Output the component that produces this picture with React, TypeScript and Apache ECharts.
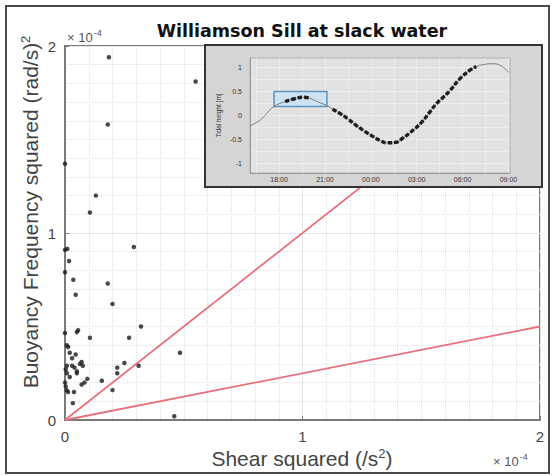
import React, { useEffect, useRef } from "react";
import * as echarts from "echarts";

// Shear squared S² and buoyancy frequency squared N², both in units of 1e-4
const shearSq = [
  0.185, 0.55, 0.18, 0.0, 0.13, 0.105, 0.29, 0.01, 0.0, 0.017,
  0.0, 0.035, 0.18, 0.045, 0.2, 0.0, 0.05, 0.055, 0.105, 0.27,
  0.32, 0.484, 0.31, 0.25, 0.22, 0.22, 0.2, 0.155, 0.094, 0.07,
  0.038, 0.033, 0.46, 0.007, 0.0, 0.013, 0.02, 0.03, 0.008, 0.03,
  0.04, 0.063, 0.07, 0.05, 0.008, 0.02, 0.05, 0.003, 0.013, 0.003,
  0.008, 0.045, 0.075, 0.082,
];
const buoyancySq = [
  1.94, 1.81, 1.58, 1.37, 1.2, 1.11, 0.925, 0.915, 0.91, 0.85,
  0.79, 0.75, 0.73, 0.67, 0.62, 0.465, 0.47, 0.48, 0.44, 0.44,
  0.5, 0.36, 0.29, 0.305, 0.28, 0.25, 0.16, 0.21, 0.22, 0.19,
  0.15, 0.09, 0.02, 0.16, 0.2, 0.39, 0.36, 0.33, 0.29, 0.29,
  0.28, 0.3, 0.31, 0.26, 0.25, 0.23, 0.25, 0.18, 0.15, 0.27,
  0.4, 0.35, 0.29, 0.2,
];
// Reference lines N² = Ri · S²
const richardson = [1, 0.25];
const mainTicks = [0, 1, 2];

// Tidal height record: hours from midnight of the first day, height in metres
const tideHours = [
  16.1, 16.5, 16.9, 17.5, 17.9, 18.4, 19.0, 19.6, 20.0, 20.5,
  21.1, 21.5, 22.0, 22.5, 23.1, 23.6, 24.1, 24.6, 25.05, 25.6,
  26.1, 26.6, 27.3, 27.8, 28.3, 28.8, 29.2, 29.8, 30.5, 30.9,
  31.3, 32.0, 32.6, 33.0,
];
const tideHeight = [
  -0.22, -0.15, -0.06, 0.15, 0.23, 0.29, 0.35, 0.38, 0.36, 0.29,
  0.21, 0.13, 0.04, -0.07, -0.22, -0.33, -0.43, -0.52, -0.57, -0.56,
  -0.47, -0.35, -0.15, 0.05, 0.25, 0.4, 0.53, 0.76, 0.95, 1.02,
  1.06, 1.08, 1.02, 0.9,
];
// Periods covered by the profiling casts
const castWindows = [
  [18.3, 20.1],
  [21.4, 30.9],
];
// Slack-water period highlighted on the tide record
const slackBox = { t0: 17.67, t1: 21.13, h0: 0.19, h1: 0.5 };
const tideHourTicks = [18, 21, 24, 27, 30, 33];
const tideHourGrid = [16.5, 18, 19.5, 21, 22.5, 24, 25.5, 27, 28.5, 30, 31.5, 33];
const tideHeightTicks = [-1, -0.5, 0, 0.5, 1];
const tideHeightGrid = [-1, -0.75, -0.5, -0.25, 0, 0.25, 0.5, 0.75, 1];

const SANS = "'Liberation Sans', Arial, sans-serif";

const hourLabel = (v: number) => {
  const h = Math.round(v) % 24;
  return (h < 10 ? "0" : "") + h + ":00";
};

export default function App() {
  const ref = useRef<HTMLDivElement>(null);

  useEffect(() => {
    if (!ref.current) return;
    const chart = echarts.init(ref.current, undefined, { renderer: "svg" });

    const points = shearSq.map((s, i) => [s, buoyancySq[i]]);
    const tide = tideHours.map((t, i) => [t, tideHeight[i]]);

    const mainAxisCommon = {
      min: 0,
      max: 2,
      interval: 1,
      axisLine: { lineStyle: { color: "#7a7a7a", width: 2 } },
      axisTick: { inside: true, length: 4, lineStyle: { color: "#7a7a7a" } },
      axisLabel: {
        fontSize: 15,
        color: "#444",
        fontFamily: SANS,
        customValues: mainTicks,
        margin: 9,
      },
      splitLine: { show: true, lineStyle: { color: "#e6e6e6", width: 1 } },
      minorTick: { show: false, splitNumber: 10 },
      minorSplitLine: {
        show: true,
        lineStyle: { color: "#e0e0e0", width: 1, type: "dotted" as const },
      },
    };

    const insetAxisCommon = {
      z: 60,
      axisLine: { onZero: false, lineStyle: { color: "#9a9a9a", width: 1 } },
      splitLine: {
        show: true,
        lineStyle: { color: "#f4f4f4", width: 1, type: "dotted" as const },
      },
    };
    const insetLabel = { fontSize: 7, color: "#333", fontFamily: SANS };

    const riSeries = richardson.map((ri) => ({
      type: "line",
      xAxisIndex: 0,
      yAxisIndex: 0,
      data: [
        [0, 0],
        [2, 2 * ri],
      ],
      symbol: "none",
      lineStyle: { color: "#e7707c", width: 1.8 },
      z: 3,
    }));

    const castSeries = castWindows.map(([a, b]) => ({
      type: "line",
      xAxisIndex: 1,
      yAxisIndex: 1,
      data: tide.filter(([t]) => t >= a && t <= b),
      symbol: "none",
      smooth: true,
      lineStyle: { color: "#1e1e1e", width: 3.4, type: [4.5, 2] },
      z: 72,
    }));

    chart.setOption({
      animation: false,
      backgroundColor: "#ffffff",
      grid: [
        {
          left: 65,
          top: 46,
          right: 16,
          bottom: 56,
          show: true,
          borderColor: "#7a7a7a",
          borderWidth: 2,
          backgroundColor: "transparent",
        },
        { left: 250, top: 58, right: 46, bottom: 303 },
      ],
      xAxis: [
        { ...mainAxisCommon, type: "value", gridIndex: 0 },
        {
          ...insetAxisCommon,
          type: "value",
          gridIndex: 1,
          min: 16.1,
          max: 33.1,
          axisTick: { show: false, customValues: tideHourGrid },
          axisLabel: {
            ...insetLabel,
            margin: 3,
            customValues: tideHourTicks,
            formatter: hourLabel,
          },
        },
      ],
      yAxis: [
        { ...mainAxisCommon, type: "value", gridIndex: 0 },
        {
          ...insetAxisCommon,
          type: "value",
          gridIndex: 1,
          min: -1.2,
          max: 1.2,
          axisTick: { show: false, customValues: tideHeightGrid },
          axisLabel: {
            ...insetLabel,
            margin: 8,
            customValues: tideHeightTicks,
          },
          name: "Tidal height [m]",
          nameLocation: "middle",
          nameGap: 28,
          nameTextStyle: { fontSize: 6.5, color: "#333", fontFamily: SANS },
        },
      ],
      graphic: [
        {
          type: "rect",
          z: 50,
          shape: { x: 205, y: 45, width: 337, height: 142 },
          style: { fill: "#d5d5d5", stroke: "#333", lineWidth: 2 },
        },
        {
          type: "rect",
          z: 51,
          shape: { x: 250, y: 58, width: 260, height: 115 },
          style: { fill: "#e2e2e2", stroke: "#b0b0b0", lineWidth: 1 },
        },
        {
          type: "rect",
          z: 100,
          shape: { x: 6, y: 6, width: 543, height: 467 },
          style: { fill: "none", stroke: "#4a4a4a", lineWidth: 2 },
        },
        {
          type: "text",
          z: 100,
          x: 302,
          y: 31,
          style: {
            text: "Williamson Sill at slack water",
            font: "bold 17.5px 'DejaVu Sans', sans-serif",
            fill: "#111",
            align: "center",
            verticalAlign: "middle",
          },
        },
        {
          type: "text",
          z: 100,
          x: 30,
          y: 212,
          rotation: Math.PI / 2,
          style: {
            text: "Buoyancy Frequency squared (rad/s){s|2}",
            font: `21px ${SANS}`,
            fill: "#444",
            align: "center",
            verticalAlign: "middle",
            rich: { s: { fontSize: 13, fontFamily: SANS, padding: [0, 0, 10, 0], fill: "#444" } },
          },
        },
        {
          type: "text",
          z: 100,
          x: 302,
          y: 458,
          style: {
            text: "Shear squared (/s{s|2})",
            font: `21px ${SANS}`,
            fill: "#444",
            align: "center",
            verticalAlign: "middle",
            rich: { s: { fontSize: 13, fontFamily: SANS, padding: [0, 0, 10, 0], fill: "#444" } },
          },
        },
        {
          type: "text",
          z: 100,
          x: 67,
          y: 37,
          style: {
            text: "× 10{s|-4}",
            font: `13px ${SANS}`,
            fill: "#555",
            align: "left",
            verticalAlign: "middle",
            rich: { s: { fontSize: 9, fontFamily: SANS, padding: [0, 0, 8, 1], fill: "#555" } },
          },
        },
        {
          type: "text",
          z: 100,
          x: 493,
          y: 461,
          style: {
            text: "× 10{s|-4}",
            font: `13px ${SANS}`,
            fill: "#555",
            align: "left",
            verticalAlign: "middle",
            rich: { s: { fontSize: 9, fontFamily: SANS, padding: [0, 0, 8, 1], fill: "#555" } },
          },
        },
      ],
      series: [
        {
          type: "scatter",
          xAxisIndex: 0,
          yAxisIndex: 0,
          data: points,
          symbolSize: 4.5,
          itemStyle: { color: "#1c1c1c" },
          z: 4,
        },
        ...riSeries,
        {
          type: "line",
          xAxisIndex: 1,
          yAxisIndex: 1,
          data: tide,
          symbol: "none",
          smooth: true,
          lineStyle: { color: "#7d7d7d", width: 1 },
          z: 70,
          markArea: {
            silent: true,
            z: 69,
            itemStyle: {
              color: "rgba(200,228,248,0.8)",
              borderColor: "#5b93c2",
              borderWidth: 1.5,
            },
            data: [
              [
                { coord: [slackBox.t0, slackBox.h1] },
                { coord: [slackBox.t1, slackBox.h0] },
              ],
            ],
          },
        },
        ...castSeries,
      ],
    });

    return () => chart.dispose();
  }, []);

  return (
    <div
      ref={ref}
      style={{ position: "fixed", left: 0, top: 0, width: 556, height: 476 }}
    />
  );
}
